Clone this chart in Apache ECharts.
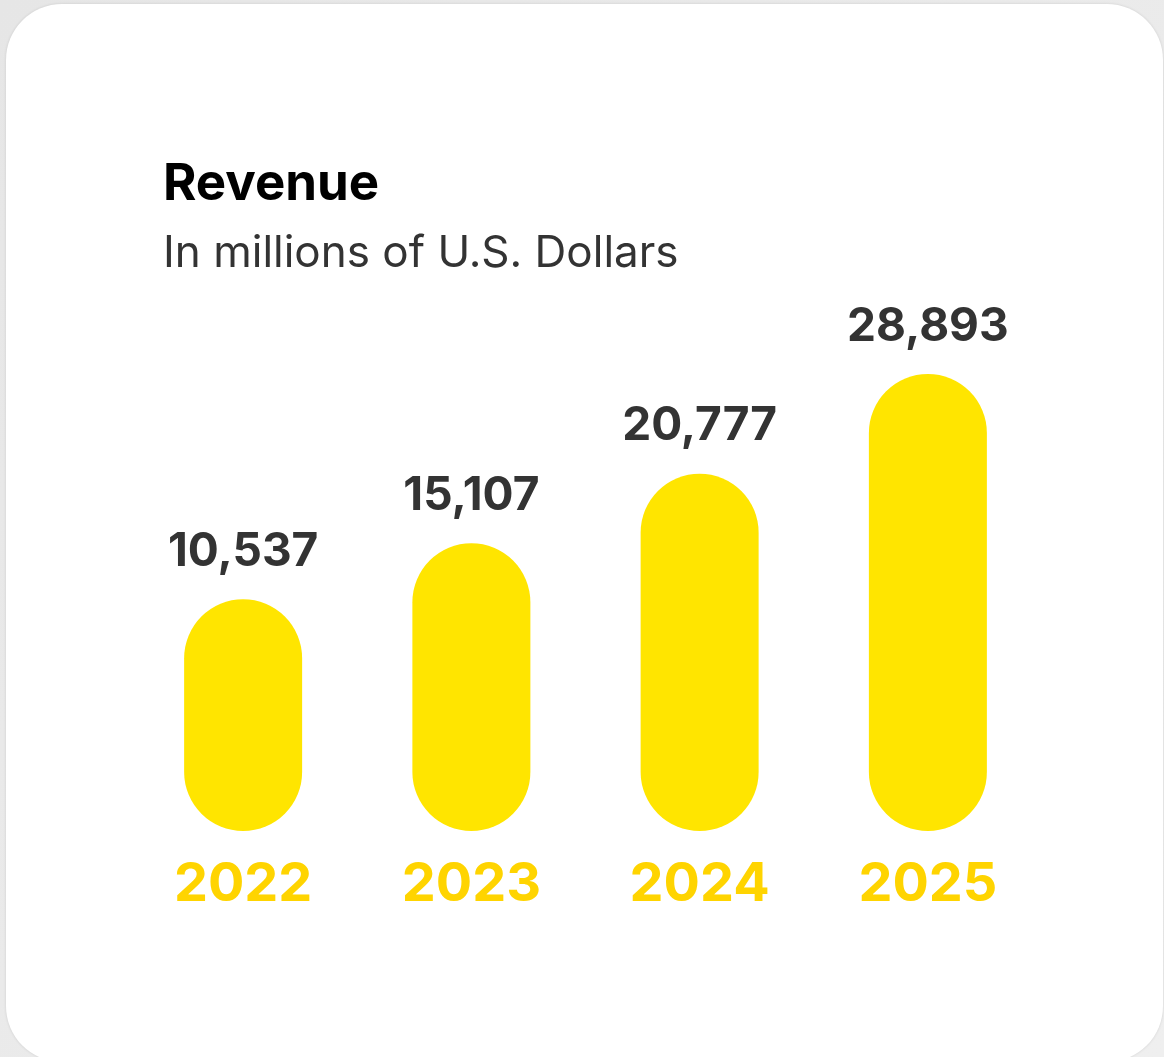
<!DOCTYPE html>
<html>
<head>
<meta charset="utf-8">
<script src="https://cdn.jsdelivr.net/npm/echarts@6/dist/echarts.min.js"></script>
<style>
  html, body { margin: 0; padding: 0; width: 1164px; height: 1057px; overflow: hidden;
    background: linear-gradient(135deg, #e6e6e6 0%, #efefef 100%); }
  #card { position: absolute; left: 6px; top: 4px; width: 1157px; height: 1058px;
    background: #fff; border-radius: 56px; box-shadow: 0 0 3px rgba(0,0,0,0.12); }
  #chart { position: absolute; left: 0; top: 0; width: 1164px; height: 1057px; }
</style>
</head>
<body>
<div id="card"></div>
<div id="chart"></div>
<script>
// Annual revenue, millions of U.S. dollars
const years = ['2022', '2023', '2024', '2025'];
const revenue = [10537, 15107, 20777, 28893];

const titleText = 'Revenue';
const subtitleText = 'In millions of U.S. Dollars';

const FONT = 'Inter, "Open Sans", sans-serif';
const BAR_COLOR = '#FFE500';
const YEAR_COLOR = '#FFD400';
const VALUE_COLOR = '#333333';

// Value axis starts below zero so every pill keeps a visible base
const Y_MIN = -8350;
const Y_MAX = 34930;
const BAR_W = 118;

const chart = echarts.init(document.getElementById('chart'), null, { renderer: 'canvas' });

chart.setOption({
  backgroundColor: 'transparent',
  animation: false,
  title: {
    text: titleText,
    subtext: subtitleText,
    left: 158,
    top: 154,
    itemGap: 22,
    textStyle: { fontFamily: FONT, fontSize: 51, fontWeight: 'bold', color: '#000' },
    subtextStyle: { fontFamily: FONT, fontSize: 44, fontWeight: 'normal', color: '#333' }
  },
  grid: { left: 129, right: 122, top: 300, bottom: 226, containLabel: false },
  xAxis: {
    type: 'category',
    data: years,
    axisLine: { show: false },
    axisTick: { show: false },
    axisLabel: {
      margin: 27,
      fontFamily: FONT, fontSize: 54, fontWeight: 'bold', color: YEAR_COLOR
    }
  },
  yAxis: {
    type: 'value',
    min: Y_MIN,
    max: Y_MAX,
    show: false,
    splitLine: { show: false }
  },
  series: [{
    type: 'custom',
    data: revenue.map((v, i) => [i, v]),
    renderItem: function (params, api) {
      const idx = api.value(0);
      const val = api.value(1);
      const top = api.coord([idx, val]);
      const base = api.coord([idx, Y_MIN]);
      const h = base[1] - top[1];
      return {
        type: 'group',
        children: [{
          type: 'rect',
          shape: { x: top[0] - BAR_W / 2, y: top[1], width: BAR_W, height: h, r: BAR_W / 2 },
          style: { fill: BAR_COLOR }
        }, {
          type: 'text',
          style: {
            text: val.toLocaleString('en-US'),
            x: top[0],
            y: top[1] - 47,
            align: 'center',
            verticalAlign: 'middle',
            fill: VALUE_COLOR,
            font: 'bold 46px ' + FONT
          }
        }]
      };
    }
  }]
});
</script>
</body>
</html>
